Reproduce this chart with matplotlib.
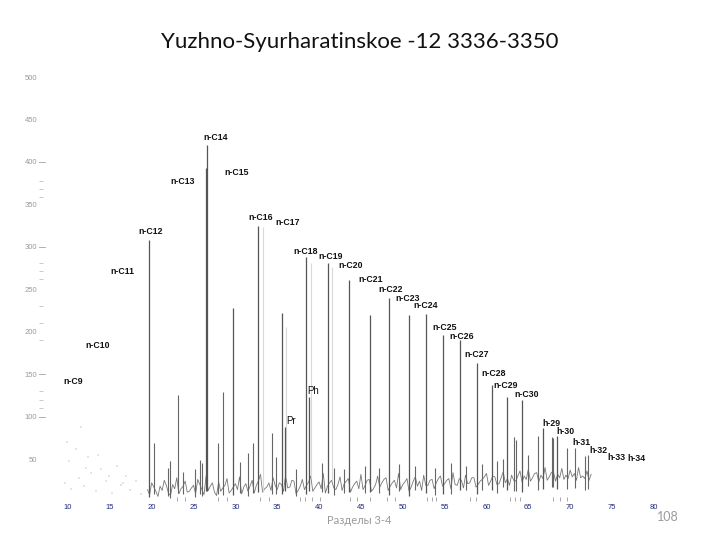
import matplotlib
matplotlib.use("Agg")
import matplotlib.pyplot as plt
import numpy as np

# ---------------- data ----------------
title = "Yuzhno-Syurharatinskoe -12 3336-3350"
footer_left = "Разделы 3-4"
footer_right = "108"

# main labelled peaks: name, retention time (min), height
peak_names = ["n-C12", "n-C13", "n-C14", "n-C15", "n-C16", "n-C17", "Pr", "n-C18", "Ph",
              "n-C19", "n-C20", "n-C21", "n-C22", "n-C23", "n-C24", "n-C25", "n-C26",
              "n-C27", "n-C28", "n-C29", "n-C30", "h-29", "h-30"]
peak_times = [19.68, 26.43, 26.57, 29.71, 32.70, 35.57, 35.93, 38.43, 38.85,
              41.10, 43.57, 46.08, 48.35, 50.74, 52.77, 54.80, 56.83,
              58.86, 60.66, 62.51, 64.24, 66.81, 68.42]
peak_heights = [308, 393, 420, 228, 324, 222, 88, 288, 123,
                281, 261, 220, 240, 220, 221, 196, 190,
                163, 137, 123, 120, 87, 77]

# smaller unlabelled peaks
minor_times = [20.27, 21.9, 22.2, 23.1, 23.74, 25.2, 25.8, 26.0, 27.92, 28.52, 30.6, 31.5,
               32.1, 34.34, 34.8, 37.2, 40.35, 41.8, 43.0, 45.5, 47.2, 49.6, 51.4, 53.8,
               55.8, 57.6, 59.5, 61.3, 62.0, 63.28, 63.52, 64.96, 66.15, 67.83, 67.95,
               69.62, 70.57, 71.77, 72.13]
minor_heights = [69, 40, 48, 125, 35, 38, 49, 45, 69, 129, 46, 57,
                 69, 81, 52, 38, 45, 40, 38, 42, 40, 44, 42, 40,
                 45, 42, 44, 48, 50, 76, 72, 55, 77, 76, 75,
                 63, 63, 54, 55]

# faint (light grey) traces
faint_times = [33.26, 36.05, 39.03, 41.50]
faint_heights = [323, 205, 281, 276]

# baseline signal, 19.5 .. 72.5 min every 0.5 min
base_start, base_step = 19.5, 0.5
base_heights = [14, 22, 12, 18, 25, 10, 20, 28, 15, 24,
                12, 19, 26, 14, 30, 18, 11, 23, 16, 27,
                13, 21, 29, 17, 12, 25, 19, 32, 15, 22,
                28, 14, 20, 31, 17, 24, 13, 26, 19, 30,
                16, 23, 33, 18, 25, 14, 29, 21, 27, 17,
                24, 32, 19, 26, 15, 30, 22, 28, 18, 25,
                33, 20, 27, 17, 29, 24, 31, 19, 26, 22,
                30, 21, 27, 34, 19, 25, 31, 22, 28, 20,
                26, 33, 24, 29, 21, 35, 27, 31, 24, 36,
                30, 38, 28, 34, 31, 40, 29, 35, 32, 39,
                31, 37, 33, 40, 30, 36, 32]
# baseline values halfway between the samples above (19.75 .. 72.25)
base_mid_heights = [8, 17, 6, 13, 19, 7, 15, 9, 18, 11,
                    16, 9, 20, 8, 13, 22, 7, 12, 19, 10,
                    17, 14, 9, 21, 18, 10, 24, 11, 17, 13,
                    19, 22, 12, 16, 25, 9, 18, 14, 23, 12,
                    20, 15, 10, 22, 16, 20, 13, 24, 11, 21,
                    15, 14, 25, 12, 20, 17, 26, 13, 22, 16,
                    14, 23, 12, 24, 18, 13, 19, 25, 15, 27,
                    18, 25, 15, 20, 27, 16, 21, 28, 17, 24,
                    29, 19, 30, 20, 28, 22, 19, 25, 30, 23,
                    26, 24, 33, 23, 27, 25, 34, 24, 28, 26,
                    27, 29, 25, 28, 27, 25]

# faint early-region specks
early_times = [9.6, 10.1, 10.4, 11.0, 11.3, 11.9, 12.4, 12.8, 13.3, 13.9, 14.6, 15.2,
               15.8, 16.3, 16.9, 17.4, 18.1, 18.7, 9.9, 11.6, 12.1, 13.6, 14.9, 16.6]
early_heights = [22, 48, 15, 62, 28, 18, 52, 33, 12, 38, 24, 10, 42, 20, 30, 14, 24, 9,
                 70, 88, 40, 55, 30, 22]

# label positions (left edge, vertical centre) in data units
label_text = ["n-C9", "n-C10", "n-C11", "n-C12", "n-C13", "n-C14", "n-C15", "n-C16", "n-C17",
              "n-C18", "n-C19", "n-C20", "n-C21", "n-C22", "n-C23", "n-C24", "n-C25",
              "n-C26", "n-C27", "n-C28", "n-C29", "n-C30", "Ph", "Pr",
              "h-29", "h-30", "h-31", "h-32", "h-33", "h-34"]
label_t = [9.40, 12.03, 15.02, 18.36, 22.19, 26.13, 28.64, 31.51, 34.74,
           36.88, 39.87, 42.26, 44.65, 47.04, 49.07, 51.22, 53.49,
           55.53, 57.32, 59.34, 60.78, 63.29, 38.55, 36.05,
           66.63, 68.30, 70.21, 72.24, 74.40, 76.79]
label_h = [140.8, 184.3, 271.5, 318.6, 377.5, 428.2, 388.0, 335.0, 329.2,
           293.9, 288.0, 277.4, 262.0, 250.3, 239.7, 230.3, 205.5,
           194.9, 173.7, 150.2, 137.2, 126.6, 130.2, 94.8,
           92.4, 83.0, 70.0, 59.5, 52.4, 51.2]

x_ticks = [10, 15, 20, 25, 30, 35, 40, 45, 50, 55, 60, 65, 70, 75, 80]
x_marks = [20, 23, 24, 25, 27.9, 29, 30, 33, 34, 35, 37.7, 38.3, 39.1, 40.1, 43.7, 44.5,
           46.1, 48.1, 49.1, 52.9, 53.5, 54.0, 58.0, 58.8, 60.0, 62.8, 63.4, 64.0,
           68.0, 68.8, 69.6]
y_ticks = [50, 100, 150, 200, 250, 300, 350, 400, 450, 500]
y_dash_ticks = [100, 150, 300, 400]
y_minor = [110, 120, 130, 190, 210, 230, 262, 271, 281, 359, 368, 378]

# ---------------- drawing ----------------
fig = plt.figure(figsize=(7.2, 5.4), dpi=100)
ax = fig.add_axes([0.05375, 0.0713, 0.8951, 0.8018])
ax.set_xlim(6.5, 83.5)
ax.set_ylim(0, 510)
for s in ax.spines.values():
    s.set_visible(False)

base_t = base_start + base_step * np.arange(len(base_heights))
mid_t = base_t[:-1] + base_step / 2
all_t = np.concatenate([base_t, mid_t])
all_h = np.concatenate([base_heights, base_mid_heights])
order = np.argsort(all_t)
all_t, all_h = all_t[order], all_h[order]

ax.scatter(early_times, early_heights, s=2, marker="s", color="#e4e4e4", linewidths=0)
ax.plot(all_t, all_h, color="#777777", lw=0.6)

b_at = lambda t: np.interp(t, all_t, all_h)
ax.vlines(faint_times, b_at(np.array(faint_times)), faint_heights, color="#d9d9d9", lw=0.8)
ax.vlines(minor_times, b_at(np.array(minor_times)) * 0.5, minor_heights, color="#666666", lw=0.8)
ax.vlines(peak_times, b_at(np.array(peak_times)) * 0.5, peak_heights, color="#555555", lw=0.9)

for txt, t, h in zip(label_text, label_t, label_h):
    plain = txt in ("Ph", "Pr")
    ax.text(t, h, txt, ha="left", va="center", fontsize=7 if plain else 6.3,
            color="#111111", family="Liberation Sans",
            fontweight="normal" if plain else "bold")

ax.set_xticks(x_ticks)
ax.set_xticklabels([str(v) for v in x_ticks], fontsize=5.5, color="#1c2a7a",
                   family="Liberation Sans")
ax.tick_params(axis="x", length=0, pad=2)
ax.set_xticks(x_marks, minor=True)
ax.tick_params(axis="x", which="minor", direction="in", length=3, color="#9a9a9a", width=0.6)

ax.set_yticks(y_ticks)
ax.set_yticklabels([str(v) for v in y_ticks], fontsize=5.5, color="#9a9a9a",
                   family="Liberation Sans")
ax.tick_params(axis="y", length=0, pad=1)
ax.set_yticks(y_minor, minor=True)
ax.tick_params(axis="y", which="minor", direction="in", length=3, color="#c0c0c0", width=0.6)
for v in y_dash_ticks:
    ax.plot([6.5, 7.2], [v, v], color="#b0b0b0", lw=0.7, clip_on=False)

fig.text(0.5, 0.922, title, ha="center", va="center", fontsize=16, family="Lato", color="#111111")
fig.text(0.499, 0.037, footer_left, ha="center", va="center", fontsize=8, color="#9a9a9a",
         family="Lato")
fig.text(0.928, 0.042, footer_right, ha="center", va="center", fontsize=9, color="#9a9a9a",
         family="Lato")

fig.savefig("out.png", dpi=100)
